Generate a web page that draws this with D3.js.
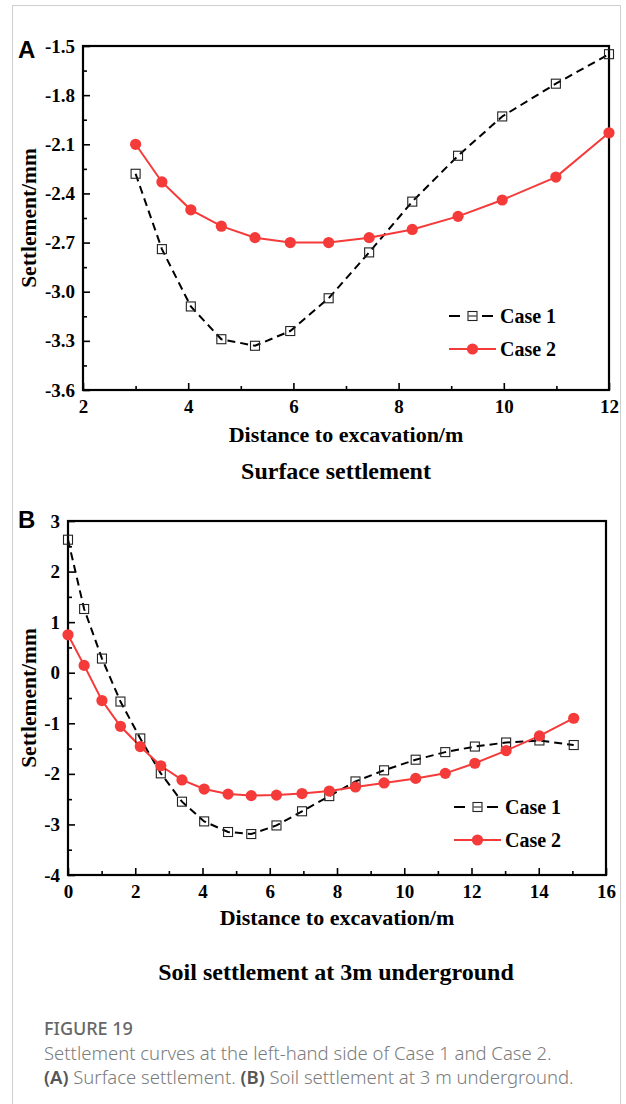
<!DOCTYPE html>
<html><head><meta charset="utf-8">
<script src="https://cdn.jsdelivr.net/npm/d3@7"></script>
<style>
html,body{margin:0;padding:0;background:#fff;}
svg{display:block;}
</style></head>
<body>
<svg id="chart" width="626" height="1104"></svg>
<script>
// ---- Data: Panel A (surface settlement) ----
const aX = [3.0, 3.5, 4.05, 4.63, 5.27, 5.94, 6.67, 7.44, 8.26, 9.13, 9.97, 10.99, 12.0];
const aCase1 = [-2.28, -2.74, -3.09, -3.29, -3.33, -3.24, -3.04, -2.76, -2.45, -2.17, -1.93, -1.73, -1.55];
const aCase2 = [-2.10, -2.33, -2.50, -2.60, -2.67, -2.70, -2.70, -2.67, -2.62, -2.54, -2.44, -2.30, -2.03];
const aXTicks = [2, 4, 6, 8, 10, 12];
const aYTicks = [-3.6, -3.3, -3.0, -2.7, -2.4, -2.1, -1.8, -1.5];

// ---- Data: Panel B (soil settlement at 3m underground) ----
const bX = [0, 0.48, 1.01, 1.56, 2.15, 2.76, 3.39, 4.05, 4.76, 5.45, 6.20, 6.96, 7.77, 8.55, 9.40, 10.34, 11.22, 12.10, 13.03, 14.02, 15.04];
const bCase1 = [2.63, 1.26, 0.28, -0.57, -1.30, -1.99, -2.55, -2.94, -3.15, -3.19, -3.02, -2.74, -2.44, -2.15, -1.93, -1.72, -1.57, -1.46, -1.38, -1.34, -1.43];
const bCase2 = [0.75, 0.145, -0.55, -1.06, -1.46, -1.84, -2.12, -2.30, -2.40, -2.43, -2.42, -2.39, -2.34, -2.26, -2.18, -2.09, -1.99, -1.79, -1.54, -1.25, -0.90];
const bXTicks = [0, 2, 4, 6, 8, 10, 12, 14, 16];
const bYTicks = [-4, -3, -2, -1, 0, 1, 2, 3];

const seriesNames = ["Case 1", "Case 2"];

const svg = d3.select("#chart");
const serif = "'Liberation Serif','Times New Roman',serif";
const RED = "#f53a3a";

// outer frame
svg.append("rect").attr("x", 12.5).attr("y", 5.5).attr("width", 608).attr("height", 1110)
  .attr("fill", "none").attr("stroke", "#cfcfcf").attr("stroke-width", 1);

function hyphenFmt(spec) {
  const f = d3.format(spec);
  return d => f(d).replace("\u2212", "-");
}

function panel(cfg) {
  const g = svg.append("g");
  const x = d3.scaleLinear().domain(cfg.xDomain).range([cfg.left, cfg.right]);
  const y = d3.scaleLinear().domain(cfg.yDomain).range([cfg.bottom, cfg.top]);

  // minor ticks
  g.append("g").attr("transform", `translate(0,${cfg.bottom})`)
    .call(d3.axisBottom(x).tickValues(cfg.xMinor).tickSizeInner(-4).tickSizeOuter(0).tickFormat(""))
    .call(s => s.select(".domain").remove())
    .call(s => s.selectAll("line").attr("stroke", "#000").attr("stroke-width", 1.6));
  g.append("g").attr("transform", `translate(${cfg.left},0)`)
    .call(d3.axisLeft(y).tickValues(cfg.yMinor).tickSizeInner(-4).tickSizeOuter(0).tickFormat(""))
    .call(s => s.select(".domain").remove())
    .call(s => s.selectAll("line").attr("stroke", "#000").attr("stroke-width", 1.6));

  // major axes
  const xa = g.append("g").attr("transform", `translate(0,${cfg.bottom})`)
    .call(d3.axisBottom(x).tickValues(cfg.xTicks).tickSizeInner(-7).tickSizeOuter(0).tickPadding(10).tickFormat(hyphenFmt("d")));
  const ya = g.append("g").attr("transform", `translate(${cfg.left},0)`)
    .call(d3.axisLeft(y).tickValues(cfg.yTicks).tickSizeInner(-7).tickSizeOuter(0).tickPadding(8).tickFormat(hyphenFmt(cfg.yFormat)));
  [xa, ya].forEach(a => {
    a.select(".domain").remove();
    a.selectAll("line").attr("stroke", "#000").attr("stroke-width", 1.6);
    a.selectAll("text").attr("fill", "#000").style("font-family", serif)
      .style("font-weight", "bold").style("font-size", "19px");
  });

  // frame
  g.append("rect").attr("x", cfg.left).attr("y", cfg.top)
    .attr("width", cfg.right - cfg.left).attr("height", cfg.bottom - cfg.top)
    .attr("fill", "none").attr("stroke", "#000").attr("stroke-width", 2.2);

  const pts1 = cfg.xs.map((d, i) => [d, cfg.c1[i]]);
  const pts2 = cfg.xs.map((d, i) => [d, cfg.c2[i]]);
  const line = d3.line().x(d => x(d[0])).y(d => y(d[1]));

  g.append("path").attr("d", line(pts1)).attr("fill", "none").attr("stroke", "#000")
    .attr("stroke-width", 2).attr("stroke-dasharray", "8,5");
  g.append("path").attr("d", line(pts2)).attr("fill", "none").attr("stroke", RED)
    .attr("stroke-width", 2);
  g.selectAll(".sq").data(pts1).join("rect")
    .attr("x", d => x(d[0]) - 4.5).attr("y", d => y(d[1]) - 4.5)
    .attr("width", 9).attr("height", 9)
    .attr("fill", "none").attr("stroke", "#222").attr("stroke-width", 1.1);
  g.selectAll(".ci").data(pts2).join("circle")
    .attr("cx", d => x(d[0])).attr("cy", d => y(d[1])).attr("r", 5.6)
    .attr("fill", RED);

  // legend
  const lg = g.append("g");
  const lx0 = cfg.legX, lx1 = cfg.legX + 47, lm = (lx0 + lx1) / 2;
  lg.append("line").attr("x1", lx0).attr("x2", lx0 + 11).attr("y1", cfg.legY1).attr("y2", cfg.legY1)
    .attr("stroke", "#000").attr("stroke-width", 2);
  lg.append("line").attr("x1", lx1 - 14).attr("x2", lx1 - 3).attr("y1", cfg.legY1).attr("y2", cfg.legY1)
    .attr("stroke", "#000").attr("stroke-width", 2);
  lg.append("rect").attr("x", lm - 4.5).attr("y", cfg.legY1 - 4.5).attr("width", 9).attr("height", 9)
    .attr("fill", "none").attr("stroke", "#222").attr("stroke-width", 1.1);
  lg.append("line").attr("x1", lm - 4).attr("x2", lm + 4).attr("y1", cfg.legY1).attr("y2", cfg.legY1)
    .attr("stroke", "#222").attr("stroke-width", 1.1);
  lg.append("line").attr("x1", lx0).attr("x2", lx1).attr("y1", cfg.legY2).attr("y2", cfg.legY2)
    .attr("stroke", RED).attr("stroke-width", 2);
  lg.append("circle").attr("cx", lm).attr("cy", cfg.legY2).attr("r", 5.6).attr("fill", RED);
  [cfg.legY1, cfg.legY2].forEach((yy, i) => {
    lg.append("text").attr("x", lx1 + 4).attr("y", yy + 7).text(seriesNames[i])
      .style("font-family", serif).style("font-weight", "bold").style("font-size", "20px");
  });

  // titles
  g.append("text").attr("x", (cfg.left + cfg.right) / 2).attr("y", cfg.xTitleY)
    .attr("text-anchor", "middle").text("Distance to excavation/m")
    .style("font-family", serif).style("font-weight", "bold").style("font-size", "22px");
  g.append("text").attr("transform", `translate(36,${(cfg.top + cfg.bottom) / 2}) rotate(-90)`)
    .attr("text-anchor", "middle").text("Settlement/mm")
    .style("font-family", serif).style("font-weight", "bold").style("font-size", "21.5px");
  g.append("text").attr("x", 336).attr("y", cfg.subY)
    .attr("text-anchor", "middle").text(cfg.sub)
    .style("font-family", serif).style("font-weight", "bold").style("font-size", "24px");
  g.append("text").attr("x", 18).attr("y", cfg.letterY).text(cfg.letter)
    .style("font-family", "'Liberation Sans',Arial,sans-serif").style("font-weight", "bold").style("font-size", "24px");
}

panel({
  xDomain: [2, 12], yDomain: [-3.6, -1.5],
  left: 83, right: 609, top: 46, bottom: 390,
  xTicks: aXTicks, xMinor: [3, 5, 7, 9, 11],
  yTicks: aYTicks, yMinor: [-3.45, -3.15, -2.85, -2.55, -2.25, -1.95, -1.65],
  yFormat: ".1f",
  xs: aX, c1: aCase1, c2: aCase2,
  legX: 449, legY1: 316, legY2: 349,
  xTitleY: 442, sub: "Surface settlement", subY: 479,
  letter: "A", letterY: 58
});

panel({
  xDomain: [0, 16], yDomain: [-4, 3],
  left: 68, right: 606, top: 521, bottom: 875,
  xTicks: bXTicks, xMinor: [1, 3, 5, 7, 9, 11, 13, 15],
  yTicks: bYTicks, yMinor: [-3.5, -2.5, -1.5, -0.5, 0.5, 1.5, 2.5],
  yFormat: "d",
  xs: bX, c1: bCase1, c2: bCase2,
  legX: 454, legY1: 807, legY2: 840,
  xTitleY: 925, sub: "Soil settlement at 3m underground", subY: 980,
  letter: "B", letterY: 528
});

// caption
const sans = "'Noto Sans','Open Sans',sans-serif";
svg.append("text").attr("x", 44).attr("y", 1035).text("FIGURE 19")
  .style("font-family", sans).style("font-size", "18px").style("font-weight", 500).attr("fill", "#666");
svg.append("text").attr("x", 44).attr("y", 1060).text("Settlement curves at the left-hand side of Case 1 and Case 2.")
  .style("font-family", sans).style("font-size", "18.5px").style("font-weight", 300).attr("fill", "#7c7c7c");
const cap = svg.append("text").attr("x", 44).attr("y", 1084)
  .style("font-family", sans).style("font-size", "18.5px").style("font-weight", 300).attr("fill", "#7c7c7c");
cap.append("tspan").text("(A)").attr("fill", "#555").style("font-weight", 600);
cap.append("tspan").text(" Surface settlement. ");
cap.append("tspan").text("(B)").attr("fill", "#555").style("font-weight", 600);
cap.append("tspan").text(" Soil settlement at 3 m underground.");
</script>
</body></html>
